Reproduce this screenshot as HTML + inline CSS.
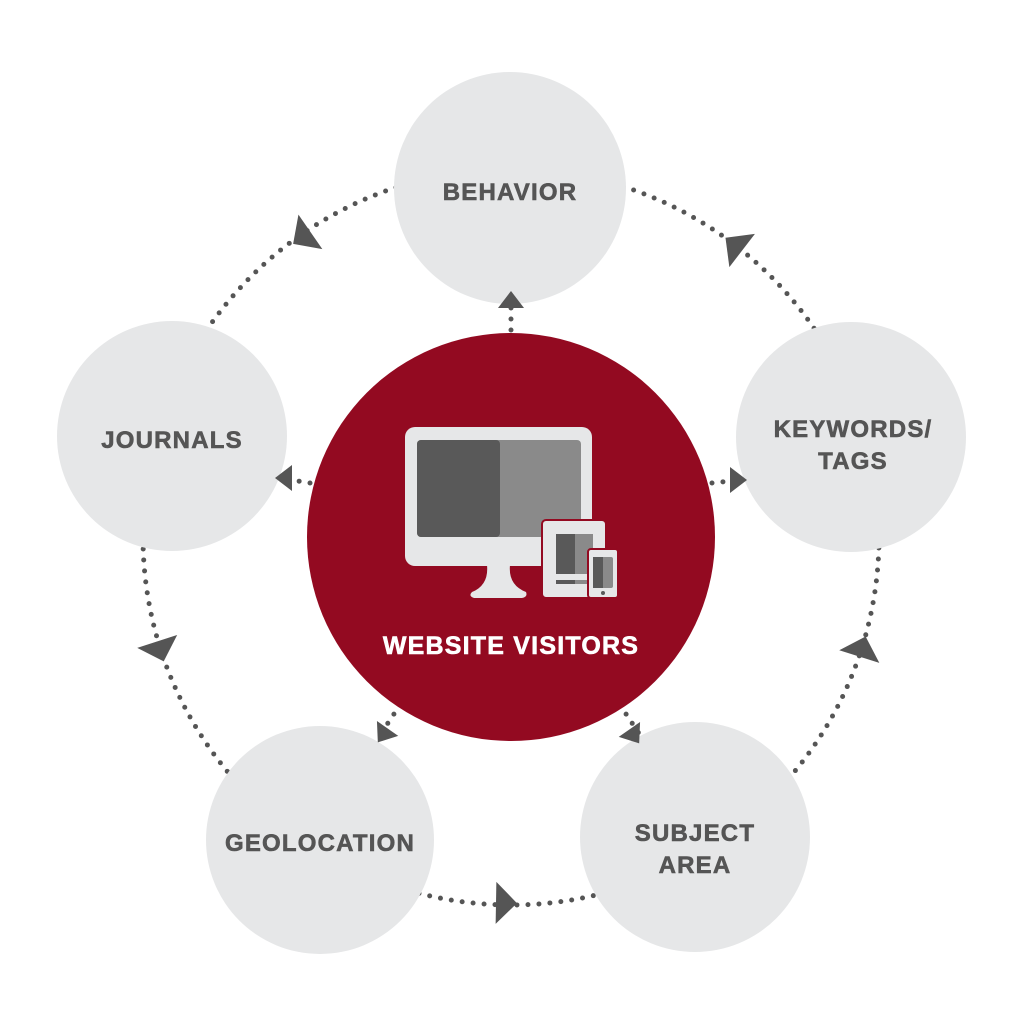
<!DOCTYPE html>
<html><head><style>body{margin:0;background:#fff}svg{display:block}</style></head><body>
<svg width="1024" height="1024" viewBox="0 0 1024 1024" xmlns="http://www.w3.org/2000/svg">
<defs>
<polygon id="ar" points="12,0 -9,-21 -9,21" fill="#555"/>
<polygon id="sa" points="9,0 -8,-13 -8,13" fill="#555"/>
</defs>
<circle cx="511" cy="537" r="368" fill="none" stroke="#555" stroke-width="5" stroke-linecap="round" stroke-dasharray="0 11"/>
<g stroke="#555" stroke-width="5" stroke-linecap="round" stroke-dasharray="0 11">
<line x1="511" y1="330" x2="511" y2="300"/>
<line x1="310" y1="483" x2="280" y2="478"/>
<line x1="712" y1="483" x2="740" y2="480"/>
<line x1="400" y1="705" x2="380" y2="735"/>
<line x1="620" y1="705" x2="640" y2="735"/>
</g>
<circle cx="510" cy="188" r="116" fill="#e6e7e8"/>
<circle cx="851" cy="437" r="115" fill="#e6e7e8"/>
<circle cx="695" cy="837" r="115" fill="#e6e7e8"/>
<circle cx="320" cy="840" r="114" fill="#e6e7e8"/>
<circle cx="172" cy="436" r="115" fill="#e6e7e8"/>
<circle cx="511" cy="537" r="204" fill="#930a21"/>
<use href="#ar" transform="translate(735,245) rotate(-142.5)"/>
<use href="#ar" transform="translate(303,237) rotate(145.3)"/>
<use href="#ar" transform="translate(160,650) rotate(72)"/>
<use href="#ar" transform="translate(505,903) rotate(1)"/>
<use href="#ar" transform="translate(862,648) rotate(-72.5)"/>
<use href="#sa" transform="translate(511,300) rotate(-90)"/>
<use href="#sa" transform="translate(284,478) rotate(180)"/>
<use href="#sa" transform="translate(738,480) rotate(0)"/>
<use href="#sa" transform="translate(383,735) rotate(125)"/>
<use href="#sa" transform="translate(634,736) rotate(55)"/>
<!-- monitor -->
<rect x="405" y="427" width="187" height="139" rx="10" fill="#e6e7e8"/>
<rect x="417" y="440" width="164" height="97" rx="4" fill="#8a8a8a"/>
<rect x="417" y="440" width="83" height="97" rx="4" fill="#595959"/>
<path d="M487,565 L510,565 Q508,585 526,592 Q528,597 522,598 L474,598 Q468,596 472,592 Q489,585 487,565Z" fill="#e6e7e8"/>
<rect x="542" y="520" width="64" height="78" rx="4" fill="#e6e7e8" stroke="#930a21" stroke-width="2"/>
<rect x="556" y="534" width="37" height="40" fill="#8a8a8a"/>
<rect x="556" y="534" width="19" height="40" fill="#595959"/>
<rect x="556" y="580" width="37" height="4" fill="#8a8a8a"/>
<rect x="556" y="580" width="19" height="4" fill="#595959"/>
<rect x="588" y="549" width="30" height="49" rx="3" fill="#e6e7e8" stroke="#930a21" stroke-width="2"/>
<rect x="593" y="557" width="20" height="31" rx="2" fill="#8a8a8a"/>
<rect x="593" y="557" width="10" height="31" fill="#595959"/>
<circle cx="603" cy="593" r="2" fill="#595959"/>
<g font-family="Liberation Sans, sans-serif" font-weight="bold" font-size="24" fill="#555" stroke="#555" stroke-width="0.6" text-anchor="middle" letter-spacing="1.2">
<text x="510" y="200">BEHAVIOR</text>
<text x="853" y="437">KEYWORDS/</text>
<text x="853" y="469">TAGS</text>
<text x="695" y="841">SUBJECT</text>
<text x="695" y="873">AREA</text>
<text x="320" y="851">GEOLOCATION</text>
<text x="172" y="448">JOURNALS</text>
<text x="511" y="654" fill="#fff" stroke="#fff" font-size="25">WEBSITE VISITORS</text>
</g>
</svg>
</body></html>
